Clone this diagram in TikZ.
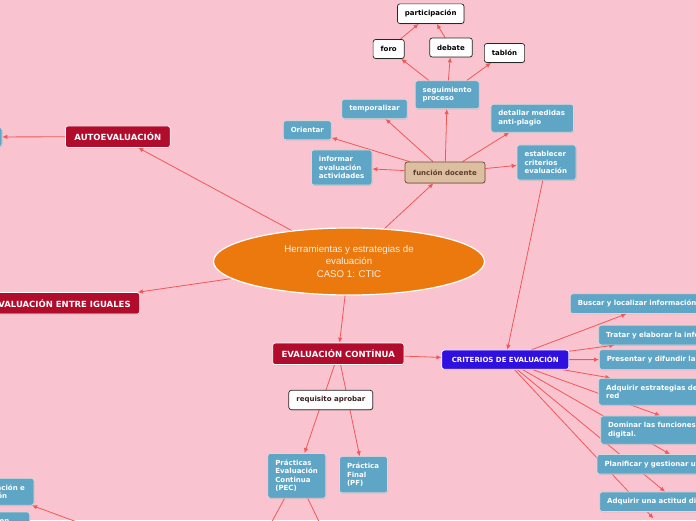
\documentclass[tikz,border=0pt]{standalone}
\usepackage{fontspec}
\setmainfont{DejaVu Sans}
\newfontfamily\arialfont{Liberation Sans}
\usetikzlibrary{arrows.meta,shapes.geometric,shadows}
\definecolor{bgpink}{RGB}{249,196,207}
\definecolor{leafblue}{RGB}{94,165,198}
\definecolor{crimson}{RGB}{178,12,45}
\definecolor{critblue}{RGB}{48,16,222}
\definecolor{tanbox}{RGB}{222,190,160}
\definecolor{tanline}{RGB}{105,78,58}
\definecolor{tantext}{RGB}{88,62,42}
\definecolor{mainorange}{RGB}{236,121,14}
\definecolor{maintext}{RGB}{252,238,226}
\definecolor{linkred}{RGB}{240,88,88}
\definecolor{reqtext}{RGB}{60,30,30}
\pgfdeclarelayer{edges}
\pgfsetlayers{edges,main}

\begin{document}
\begin{tikzpicture}[x=1pt,y=-1pt,>={Latex[length=5pt,width=4.5pt]},
    link/.style={->,draw=linkred,line width=0.8pt},
    leaf/.style={draw=white!85!black,line width=0.7pt,fill=leafblue,rounded corners=2.5pt,text=white,
      font=\fontsize{7}{8.5}\bfseries\selectfont,inner xsep=7.5pt,inner ysep=6.3pt,minimum height=19pt,
      drop shadow={opacity=0.25,shadow xshift=0.6pt,shadow yshift=-0.9pt}},
    leafl/.style={leaf,align=left},
    wbox/.style={leaf,fill=white,draw=black!85,text=black},
    docbox/.style={leaf,fill=tanbox,draw=tanline,text=tantext,minimum height=21pt,minimum width=80pt},
    topic/.style={leaf,fill=crimson,draw=white,font=\fontsize{8.5}{10}\bfseries\selectfont,inner xsep=9pt,minimum height=21.5pt},
    critbox/.style={leaf,fill=critblue,draw=white,minimum width=127pt}]
  \useasboundingbox (0,0) rectangle (696,520);
  \clip (0,0) rectangle (696,520);

  % centre
  \node[ellipse,fill=mainorange,draw=white,line width=1.2pt,minimum width=271pt,minimum height=67pt,inner sep=0pt,
    align=center,text=maintext,font=\arialfont\fontsize{9.7}{12.3}\selectfont] (herr) at (349,261.5)
    {Herramientas y estrategias de\\evaluación\\CASO 1: CTIC};

  % funcion docente
  \node[docbox] (fd) at (445,172.5) {función docente};
  \node[leaf] (orient) at (307.3,130.3) {Orientar};
  \node[leaf] (tempo) at (374.5,109) {temporalizar};
  \node[leafl,text width=49pt] (segui) at (447.2,94.8) {seguimiento\\proceso};
  \node[leafl,text width=67.5pt] (plagio) at (532.2,118.3) {detallar medidas\\anti-plagio};
  \node[leafl,text width=44pt] (estab) at (546.5,162.5) {establecer\\criterios\\evaluación};
  \node[leafl,text width=45.5pt] (inform) at (341.7,167.5) {informar\\evaluación\\actividades};
  \node[wbox] (foro) at (388.7,49) {foro};
  \node[wbox] (debate) at (451,47.5) {debate};
  \node[wbox] (tablon) at (504.5,53) {tablón};
  \node[wbox] (partic) at (430.7,13.7) {participación};

  % left side
  \node[topic] (auto) at (117.8,136.7) {AUTOEVALUACIÓN};
  \node[leaf,minimum width=82pt] (autoleft) at (-39,137) {};
  \node[topic,anchor=east] (iguales) at (140,303.3) {EVALUACIÓN ENTRE IGUALES};
  \node[leafl,text width=63.5pt] (comun) at (-5.3,491.7) {Comunicación e\\interacción};
  \node[leafl,anchor=north east,text width=54pt] (equipo) at (30,511.7) {Trabajo en\\equipo};

  % evaluacion continua
  \node[topic] (continua) at (338.3,353.8) {EVALUACIÓN CONTÍNUA};
  \node[critbox] (crit) at (505.3,359.7) {CRITERIOS DE EVALUACIÓN};
  \node[wbox,text=reqtext] (req) at (330.8,400) {requisito aprobar};
  \node[leafl,text width=43pt] (pec) at (296.8,475.8) {Prácticas\\Evaluación\\Continua\\(PEC)};
  \node[leafl,text width=33pt] (pf) at (363.5,474.7) {Práctica\\Final\\(PF)};

  % criterios
  \node[leafl,anchor=west,text width=151pt] (buscar) at (570,303.7) {Buscar y localizar información};
  \node[leafl,anchor=west,text width=170pt] (tratar) at (598.3,335) {Tratar y elaborar la información digital};
  \node[leafl,anchor=west,text width=170pt] (presentar) at (599,359.5) {Presentar y difundir la información digital};
  \node[leafl,anchor=west,text width=167pt] (estrat) at (598.3,391.7) {Adquirir estrategias de comunicación en\\red};
  \node[leafl,anchor=west,text width=184pt] (dominar) at (600.3,430) {Dominar las funciones básicas de la identidad\\digital.};
  \node[leafl,anchor=west,text width=166pt] (planif) at (596.7,464.3) {Planificar y gestionar un proyecto};
  \node[leafl,anchor=west,text width=140pt] (actitud) at (599.3,501.7) {Adquirir una actitud digital};

  \coordinate (critout) at (653.5,518.5);
  \coordinate (pecleft) at (262,540);
  \coordinate (pecright) at (328,540);
  \coordinate (comunin) at (126,540);

  \begin{pgfonlayer}{edges}
  \begin{scope}
    \clip (0,0) rectangle (696,520);
    \fill[bgpink] (0,0) rectangle (696,520);
    \draw[link] (herr)--(fd);
    \draw[link] (herr)--(auto);
    \draw[link] (herr)--(iguales);
    \draw[link] (herr)--(continua);
    \draw[link] (auto)--(autoleft);
    \foreach \t in {orient,tempo,segui,plagio,estab,inform}
      \draw[link] (fd)--(\t);
    \foreach \t in {foro,debate,tablon}
      \draw[link] (segui)--(\t);
    \draw[link] (foro)--(partic); \draw[link] (debate)--(partic);
    \draw[link] (estab)--(crit);
    \draw[link] (continua)--(crit);
    \draw[link] (continua)--(pec); \draw[link] (continua)--(pf);
    \foreach \t in {buscar,tratar,presentar,estrat,dominar,planif,actitud,critout}
      \draw[link] (crit)--(\t);
    \draw[link] (pec)--(pecleft); \draw[link] (pec)--(pecright);
    \draw[link] (comunin)--(comun);
  \end{scope}
  \end{pgfonlayer}
\end{tikzpicture}
\end{document}
